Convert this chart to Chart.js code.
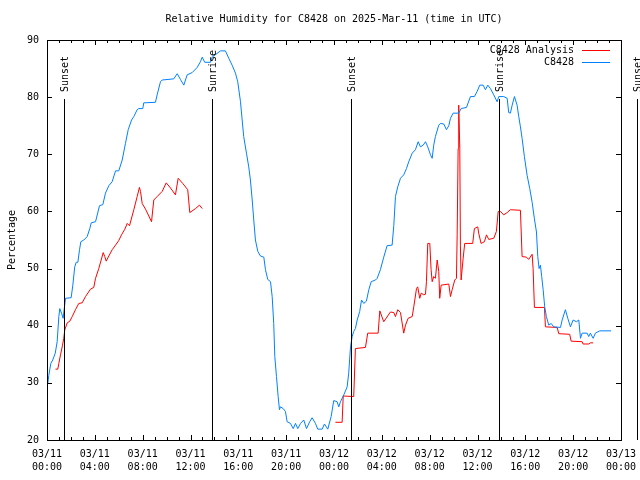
<!DOCTYPE html>
<html>
<head>
<meta charset="utf-8">
<title>Relative Humidity for C8428</title>
<script src="https://cdn.jsdelivr.net/npm/chart.js@4.4.1/dist/chart.umd.min.js"></script>
<style>
  html, body { margin: 0; padding: 0; background: #fff; }
  canvas { display: block; }
</style>
</head>
<body>
<canvas id="rhChart" width="640" height="480"></canvas>
<script>
const chartTitle = 'Relative Humidity for C8428 on 2025-Mar-11 (time in UTC)';

// hours since 03/11 00:00 UTC
const obsHours = [0.07,0.15,0.32,0.48,0.69,0.85,0.99,1.07,1.21,1.35,
  1.46,1.55,2.02,2.16,2.32,2.44,2.58,2.72,2.83,3.08,
  3.36,3.58,3.70,4.06,4.39,4.67,4.89,5.17,5.45,5.73,
  6.00,6.29,6.56,6.79,7.07,7.26,7.54,7.68,8.01,8.09,
  9.07,9.21,9.49,9.63,10.60,10.89,11.16,11.44,11.72,12.14,
  12.56,12.83,12.98,13.19,13.67,13.81,14.51,14.92,15.20,15.48,
  15.76,15.95,16.18,16.32,16.45,16.68,16.87,17.01,17.16,17.29,
  17.43,17.63,17.85,18.13,18.27,18.46,18.69,18.83,18.96,19.05,
  19.19,19.33,19.44,19.52,19.75,19.94,20.08,20.36,20.59,20.78,
  20.97,21.20,21.47,21.70,21.97,22.17,22.45,22.64,23.01,23.20,
  23.48,23.76,23.98,24.26,24.40,24.54,24.82,25.10,25.23,25.38,
  25.52,25.65,25.79,25.94,26.15,26.30,26.49,26.71,26.91,27.11,
  27.47,27.61,27.88,28.16,28.44,28.86,29.00,29.14,29.33,29.56,
  29.83,30.06,30.25,30.54,30.81,31.04,31.23,31.46,31.65,31.84,
  32.07,32.21,32.34,32.48,32.76,32.90,33.18,33.40,33.60,33.74,
  33.96,34.43,34.63,35.08,35.41,35.74,35.97,36.19,36.47,36.66,
  36.86,37.08,37.36,37.64,37.78,38.19,38.48,38.61,38.75,38.90,
  39.09,39.31,39.45,39.59,39.73,39.92,40.15,40.37,40.57,40.76,
  40.93,41.04,41.15,41.26,41.37,41.49,41.62,41.76,41.96,42.16,
  42.37,42.94,43.08,43.35,43.55,43.77,44.00,44.27,44.47,44.61,
  44.75,45.17,45.30,45.44,45.67,45.86,46.22,47.17];
const obsValues = [29.9,31.3,33.4,34.0,35.2,37.2,41.6,43.0,42.2,41.3,
  43.3,44.8,44.9,47.1,50.3,51.1,51.1,53.3,54.7,55.0,
  55.6,57.0,58.0,58.2,61.0,61.2,63.2,64.5,65.2,67.1,
  67.1,69.0,71.9,74.3,76.0,76.6,77.8,78.0,78.0,79.0,
  79.1,80.4,82.7,83.0,83.2,84.1,83.1,82.1,83.9,84.3,
  85.2,86.2,87.0,86.1,86.1,87.0,88.1,88.1,86.8,85.6,
  84.2,82.7,79.2,76.0,73.1,70.2,67.8,65.5,62.0,58.5,
  55.0,53.0,52.2,52.0,49.8,48.1,47.7,45.1,40.4,34.6,
  31.1,27.6,25.3,25.8,25.5,25.0,23.2,22.9,22.0,22.9,
  22.0,22.9,23.5,22.0,23.2,23.9,22.9,21.9,21.9,22.8,
  21.9,24.1,26.9,26.7,25.8,26.7,27.9,29.3,31.7,36.3,
  38.1,39.0,39.5,41.0,42.5,44.5,43.9,44.3,46.3,47.7,
  48.0,48.3,49.8,52.0,54.0,54.1,57.5,62.6,64.3,65.8,
  66.4,67.5,68.7,70.2,70.8,72.2,71.3,71.6,72.2,71.3,
  69.9,69.3,71.6,73.1,75.1,75.4,75.3,74.3,75.0,76.3,
  77.2,77.2,78.0,78.2,80.1,80.1,81.0,82.1,82.1,81.3,
  82.1,81.5,80.4,79.2,80.1,80.1,79.8,77.3,77.2,78.6,
  80.1,78.6,76.6,74.8,72.8,69.6,66.3,64.0,61.6,58.7,
  56.4,52.1,50.0,50.6,48.6,46.3,43.3,41.6,40.1,40.4,
  39.8,39.7,41.0,42.8,41.3,39.8,41.0,40.7,41.0,37.8,
  38.7,38.7,38.1,38.7,37.8,38.7,39.1,39.1];

// analysis series, null = gap in the data
const anaHours = [0.71,0.90,0.99,1.13,1.30,1.40,1.49,1.69,1.91,2.11,
  2.38,2.66,2.94,3.22,3.64,3.91,4.06,4.33,4.53,4.70,
  4.83,4.95,5.17,5.45,5.73,6.00,6.23,6.51,6.71,6.90,
  7.26,7.54,7.73,7.82,7.96,8.24,8.74,8.93,9.21,9.63,
  9.97,10.33,10.74,10.97,11.35,11.77,11.94,12.42,12.75,12.98,
  18.0,
  24.12,24.68,24.77,25.65,25.79,26.63,26.82,27.69,27.83,28.16,
  28.72,29.00,29.14,29.33,29.56,29.83,29.98,30.20,30.54,30.67,
  30.90,31.00,31.17,31.29,31.51,31.65,31.73,31.84,32.01,32.12,
  32.21,32.34,32.48,32.63,32.76,32.84,32.96,33.60,33.74,33.88,
  34.10,34.24,34.30,34.38,34.43,34.52,34.57,34.63,34.80,34.93,
  35.60,35.74,36.02,36.10,36.30,36.58,36.75,36.94,37.36,37.58,
  37.73,37.92,38.19,38.48,38.75,39.59,39.73,40.09,40.28,40.57,
  40.65,40.76,41.60,41.68,42.66,42.80,43.71,43.83,44.75,44.83,
  45.30,45.44,45.67];
const anaValues = [32.4,32.4,33.4,34.9,36.6,37.8,39.3,40.5,40.8,41.6,
  42.8,43.9,44.0,45.1,46.4,46.7,48.3,50.0,51.5,52.8,
  52.1,51.3,52.2,53.3,54.1,54.9,55.9,56.9,57.9,57.5,
  60.3,62.6,64.2,63.5,61.4,60.4,58.2,62.0,62.6,63.5,
  65.0,64.1,62.9,65.8,64.9,63.8,59.8,60.5,61.1,60.5,
  null,
  23.1,23.1,27.7,27.6,36.0,36.2,38.7,38.7,42.6,40.7,
  42.4,42.3,41.6,42.8,42.3,38.7,40.1,41.3,41.6,43.3,
  46.5,46.8,44.8,45.7,45.4,45.5,47.7,54.4,54.4,49.8,
  47.7,48.6,48.3,51.5,49.5,44.8,47.1,47.3,45.1,46.3,
  48.0,48.3,55.9,71.0,78.6,71.0,54.1,48.0,51.8,54.4,
  54.4,57.0,57.3,56.2,54.4,54.7,55.9,55.1,55.3,56.5,
  60.0,60.0,59.4,59.8,60.3,60.2,52.1,52.0,51.6,52.5,
  50.0,43.2,43.2,39.8,39.7,38.6,38.5,37.3,37.2,36.8,
  36.8,37.0,37.0];

const sunHours = [1.40, 13.78, 25.40, 37.78, 49.37];
const sunLabels = ['Sunset', 'Sunrise', 'Sunset', 'Sunrise', 'Sunset'];

const monoFont = "'DejaVu Sans Mono', 'Liberation Mono', monospace";

function toPoints(hours, values) {
  return hours.map(function(h, i) { return { x: h, y: values[i] }; });
}

// gnuplot-like frame, inward ticks, sun markers, legend and title
const gnuplotDecor = {
  id: 'gnuplotDecor',
  afterDatasetsDraw(chart) {
    const ctx = chart.ctx;
    const a = chart.chartArea;
    const xs = chart.scales.x;
    const ys = chart.scales.y;
    ctx.save();
    ctx.strokeStyle = '#000';
    ctx.fillStyle = '#000';
    ctx.lineWidth = 1;
    ctx.font = '10px ' + monoFont;

    // sunrise / sunset lines
    sunHours.forEach(function(h, i) {
      const px = Math.round(xs.getPixelForValue(h)) + 0.5;
      ctx.beginPath();
      ctx.moveTo(px, a.top + 59);
      ctx.lineTo(px, a.bottom);
      ctx.stroke();
      ctx.save();
      ctx.translate(px + 1, a.top + 52);
      ctx.rotate(-Math.PI / 2);
      ctx.textAlign = 'left';
      ctx.textBaseline = 'middle';
      ctx.fillText(sunLabels[i], 0, 0);
      ctx.restore();
    });

    // border
    ctx.strokeRect(a.left + 0.5, a.top + 0.5, a.right - a.left, a.bottom - a.top);

    // x ticks (hourly minor, 4-hourly major) on bottom and top
    ctx.beginPath();
    for (let h = xs.min; h <= xs.max; h++) {
      const px = Math.round(xs.getPixelForValue(h)) + 0.5;
      const len = h % 4 === 0 ? 5 : 3;
      ctx.moveTo(px, a.bottom);
      ctx.lineTo(px, a.bottom - len);
      ctx.moveTo(px, a.top);
      ctx.lineTo(px, a.top + len);
    }
    // y ticks on left and right
    ys.ticks.forEach(function(t) {
      const py = Math.round(ys.getPixelForValue(t.value)) + 0.5;
      ctx.moveTo(a.left, py);
      ctx.lineTo(a.left + 5, py);
      ctx.moveTo(a.right, py);
      ctx.lineTo(a.right - 5, py);
    });
    ctx.stroke();

    // legend
    chart.data.datasets.forEach(function(ds, i) {
      const ly = a.top + 10 + i * 12 + 0.5;
      ctx.textAlign = 'right';
      ctx.textBaseline = 'middle';
      ctx.fillStyle = '#000';
      ctx.fillText(ds.label, a.right - 47, ly);
      ctx.strokeStyle = ds.borderColor;
      ctx.beginPath();
      ctx.moveTo(a.right - 39, ly);
      ctx.lineTo(a.right - 11, ly);
      ctx.stroke();
    });

    // title
    ctx.fillStyle = '#000';
    ctx.textAlign = 'center';
    ctx.textBaseline = 'middle';
    ctx.fillText(chartTitle, (a.left + a.right) / 2, 19);
    ctx.restore();
  }
};

const ctx = document.getElementById('rhChart').getContext('2d');
new Chart(ctx, {
  type: 'line',
  data: {
    datasets: [{
      label: 'C8428 Analysis',
      data: toPoints(anaHours, anaValues),
      borderColor: '#ff0000',
      borderWidth: 1,
      pointRadius: 0,
      tension: 0,
      spanGaps: false,
      order: 1
    }, {
      label: 'C8428',
      data: toPoints(obsHours, obsValues),
      borderColor: '#0080ff',
      borderWidth: 1,
      pointRadius: 0,
      tension: 0,
      order: 0
    }]
  },
  options: {
    responsive: false,
    animation: false,
    devicePixelRatio: 1,
    layout: {
      padding: { top: 40, right: 19, left: 0, bottom: 0 }
    },
    plugins: {
      legend: { display: false },
      title: { display: false },
      tooltip: { enabled: false }
    },
    scales: {
      x: {
        type: 'linear',
        min: 0,
        max: 48,
        grid: { display: false, tickLength: 7 },
        border: { display: false },
        afterFit: function(scale) { scale.height = 40; },
        ticks: {
          stepSize: 4,
          autoSkip: false,
          maxRotation: 0,
          padding: 1,
          color: '#000',
          font: { family: monoFont, size: 10, lineHeight: 1.3 },
          callback: function(value) {
            const day = 11 + Math.floor(value / 24);
            const hour = value % 24;
            return ['03/' + day, String(hour).padStart(2, '0') + ':00'];
          }
        }
      },
      y: {
        min: 20,
        max: 90,
        grid: { display: false, tickLength: 7 },
        border: { display: false },
        afterFit: function(scale) { scale.width = 47; },
        title: {
          display: true,
          text: 'Percentage',
          color: '#000',
          padding: { top: 6, bottom: 0 },
          font: { family: monoFont, size: 10 }
        },
        ticks: {
          stepSize: 10,
          padding: 1,
          color: '#000',
          font: { family: monoFont, size: 10 }
        }
      }
    }
  },
  plugins: [gnuplotDecor]
});
</script>
</body>
</html>
